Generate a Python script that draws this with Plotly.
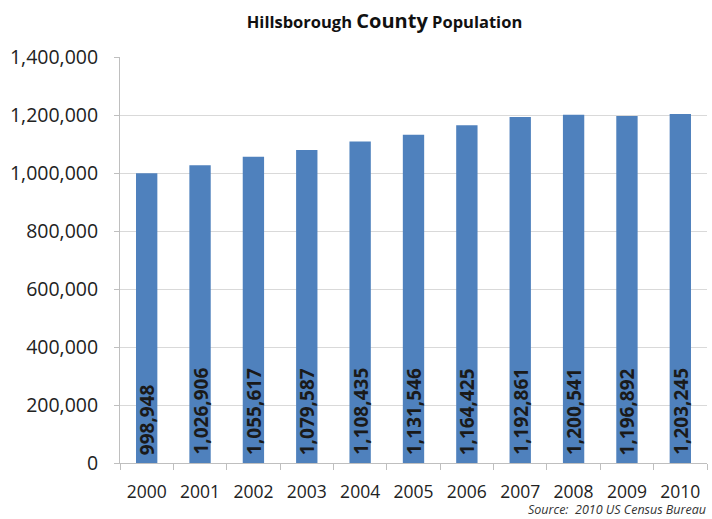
import plotly.graph_objects as go

years = ["2000", "2001", "2002", "2003", "2004", "2005", "2006", "2007", "2008", "2009", "2010"]
population = [998948, 1026906, 1055617, 1079587, 1108435, 1131546, 1164425, 1192861, 1200541, 1196892, 1203245]
y_ticks = [0, 200000, 400000, 600000, 800000, 1000000, 1200000, 1400000]

font_family = "Open Sans, Liberation Sans, sans-serif"

fig = go.Figure(
    go.Bar(
        x=years,
        y=population,
        width=0.4,
        marker=dict(color="#4F81BD", line=dict(width=0)),
        hoverinfo="x+y",
    )
)

# value labels written upward from the base of each bar
# (category axis positions are addressed by index)
for i, v in enumerate(population):
    fig.add_annotation(
        x=i,
        y=0,
        xref="x",
        yref="y",
        text=f"<b>{v:,}</b>",
        textangle=-90,
        xanchor="center",
        yanchor="bottom",
        yshift=7,
        borderpad=0,
        showarrow=False,
        font=dict(family=font_family, size=19, color="#1a1a1a"),
    )

fig.update_layout(
    width=712,
    height=519,
    margin=dict(l=120, r=5, t=57, b=56),
    paper_bgcolor="white",
    plot_bgcolor="white",
    showlegend=False,
    title=dict(
        text="<b>Hillsborough <span style='font-size:20px'>County</span> Population</b>",
        x=0.54,
        xanchor="center",
        y=0.957,
        yanchor="middle",
        font=dict(family=font_family, size=16.5, color="#111111"),
    ),
    font=dict(family=font_family, color="#222222"),
)

fig.update_yaxes(
    range=[0, 1400000],
    tickvals=y_ticks,
    ticktext=[f"{v:,}" for v in y_ticks],
    tickfont=dict(size=19.5, color="#222222"),
    showgrid=True,
    gridcolor="#d9d9d9",
    gridwidth=1,
    zeroline=False,
    showline=True,
    linecolor="#bfbfbf",
    ticks="outside",
    ticklen=5,
    tickcolor="#bfbfbf",
    ticklabelstandoff=12,
)

fig.update_xaxes(
    type="category",
    range=[-0.5, len(years) - 0.5],
    tickangle=0,
    tickfont=dict(size=17.5, color="#222222"),
    showgrid=False,
    showline=True,
    linecolor="#bfbfbf",
    ticks="outside",
    tickson="boundaries",
    ticklen=6,
    tickcolor="#bfbfbf",
    ticklabelstandoff=13,
)

fig.add_annotation(
    text="<i>Source:  2010 US Census Bureau</i>",
    xref="paper",
    yref="paper",
    x=1.0,
    y=0,
    xanchor="right",
    yanchor="bottom",
    yshift=-56,
    borderpad=0,
    showarrow=False,
    font=dict(family=font_family, size=12.5, color="#333333"),
)

fig.write_html("out.html")
